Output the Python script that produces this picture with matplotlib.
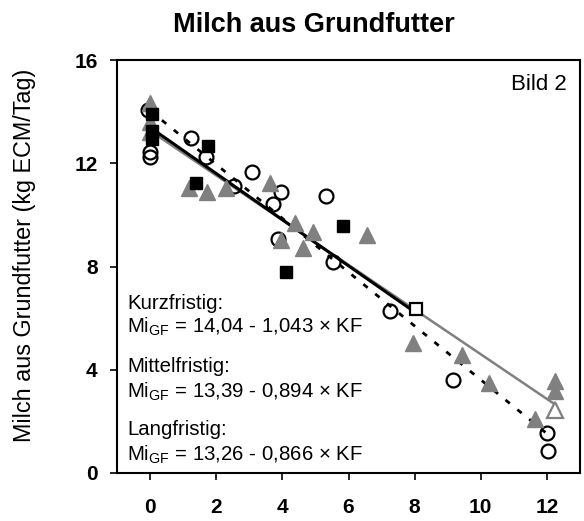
import numpy as np
import matplotlib
matplotlib.use("Agg")
import matplotlib.pyplot as plt

plt.rcParams['font.family'] = ['Liberation Sans', 'DejaVu Sans']
plt.rcParams['mathtext.fontset'] = 'custom'
plt.rcParams['mathtext.rm'] = 'Liberation Sans'
plt.rcParams['mathtext.it'] = 'Liberation Sans:italic'

# ---------- data ----------
circ_x = [-0.07, 0.0, 0.0, 1.24, 1.70, 3.09, 2.55, 3.97, 3.72, 5.33, 3.87, 5.53, 7.25, 9.17, 12.0, 12.02]
circ_y = [14.06, 12.45, 12.26, 12.97, 12.26, 11.68, 11.10, 10.88, 10.43, 10.74, 9.06, 8.19, 6.26, 3.61, 1.55, 0.87]

sq_x = [0.06, 0.06, 0.06, 1.75, 1.39, 4.12, 5.82]
sq_y = [13.90, 13.25, 12.95, 12.67, 11.23, 7.77, 9.55]

tri_x = [0.0, 0.0, 0.0, 1.19, 1.73, 2.30, 3.62, 4.37, 4.93, 3.97, 4.62, 6.55, 7.96, 9.42, 10.26, 12.25, 12.25, 11.65]
tri_y = [14.33, 13.60, 13.20, 11.03, 10.90, 11.03, 11.23, 9.68, 9.35, 9.03, 8.71, 9.23, 5.03, 4.58, 3.48, 3.55, 3.16, 2.09]

# regressions: intercept, slope, x range
kurz = (14.04, -1.043, 0, 12)
mittel = (13.39, -0.894, 0, 8)
lang = (13.26, -0.866, 0, 12.25)

open_sq = (8.03, 6.35)
open_tri = (12.25, 2.45)

eq_labels = ["Kurzfristig:", r"Mi$_{\mathrm{GF}}$ = 14,04 - 1,043 × KF",
             "Mittelfristig:", r"Mi$_{\mathrm{GF}}$ = 13,39 - 0,894 × KF",
             "Langfristig:", r"Mi$_{\mathrm{GF}}$ = 13,26 - 0,866 × KF"]

# ---------- plot ----------
fig = plt.figure(figsize=(5.84, 5.21), dpi=100)
ax = fig.add_axes([117 / 584, 48 / 521, 463 / 584, 413 / 521])

gray = '#808080'

def reg_line(p):
    b, m, x0, x1 = p
    xs = np.array([x0, x1])
    return xs, b + m * xs

xs, ys = reg_line(lang)
ax.plot(xs, ys, color=gray, lw=1.8, zorder=2)
xs, ys = reg_line(mittel)
ax.plot(xs, ys, color='black', lw=2.2, zorder=2)
xs, ys = reg_line(kurz)
ax.plot(xs, ys, color='black', lw=2.0, ls=(0, (2, 3.5)), zorder=2)

ax.plot(circ_x, circ_y, 'o', ms=10, mfc='none', mec='black', mew=1.6, zorder=3)
ax.plot(tri_x, tri_y, '^', ms=11, color=gray, mec=gray, zorder=4)
ax.plot(sq_x, sq_y, 's', ms=9, color='black', zorder=5)
ax.plot(*open_sq, 's', ms=9, mfc='white', mec='black', mew=1.6, zorder=5)
ax.plot(*open_tri, '^', ms=11, mfc='white', mec=gray, mew=1.6, zorder=5)

ax.set_xlim(-1, 13)
ax.set_ylim(0, 16)
ax.set_xticks([0, 2, 4, 6, 8, 10, 12])
ax.set_yticks([0, 4, 8, 12, 16])
ax.tick_params(axis='x', direction='out', length=5, width=1.2, pad=13, labelsize=15)
ax.tick_params(axis='y', direction='out', length=5, width=1.2, pad=9, labelsize=15)
for lab in ax.get_xticklabels() + ax.get_yticklabels():
    lab.set_fontweight('bold')
for s in ax.spines.values():
    s.set_linewidth(1.5)

ax.text(567 / 584, 1 - 90 / 521, "Bild 2", transform=fig.transFigure, ha='right',
        va='baseline', fontsize=16)

ys_txt = [309, 333, 372, 398, 435, 461]
for t, yp in zip(eq_labels, ys_txt):
    ax.text(127 / 584, 1 - yp / 521, t, transform=fig.transFigure, ha='left',
            va='baseline', fontsize=14.7)

fig.text(314 / 584, 1 - 32 / 521, "Milch aus Grundfutter", ha='center', va='baseline',
         fontsize=19.5, fontweight='bold')
fig.text(25 / 584, 1 - 255 / 521, "Milch aus Grundfutter (kg ECM/Tag)", rotation=90,
         ha='center', va='center', fontsize=16.8)

fig.savefig("out.png", dpi=100)
